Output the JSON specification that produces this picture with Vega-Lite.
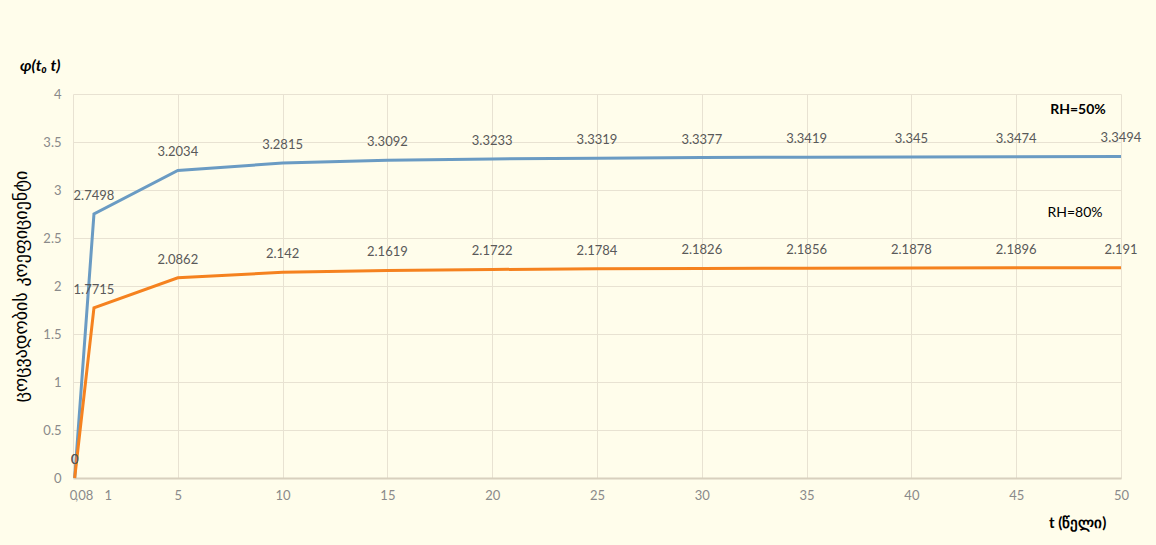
{
  "$schema": "https://vega.github.io/schema/vega-lite/v6.json",
  "width": 1048,
  "height": 384,
  "autosize": {"type": "none"},
  "padding": {"left": 73, "top": 94, "right": 35, "bottom": 67},
  "background": "#FFFDEB",
  "title": {
    "text": "φ(t₀ t)",
    "anchor": "start",
    "frame": "group",
    "dx": -53,
    "offset": 14,
    "font": "Lato",
    "fontSize": 16,
    "fontStyle": "italic",
    "fontWeight": "bold",
    "color": "#000000"
  },
  "config": {
    "view": {"stroke": null},
    "font": "Lato",
    "axis": {
      "gridColor": "#E8E2D2",
      "gridWidth": 1,
      "labelColor": "#8A8A8A",
      "labelFontSize": 13,
      "labelFont": "Lato",
      "ticks": false,
      "domain": false
    }
  },
  "data": {
    "values": [
      {"t": 0.08, "phi": 0, "RH": "RH=50%"},
      {"t": 1, "phi": 2.7498, "RH": "RH=50%"},
      {"t": 5, "phi": 3.2034, "RH": "RH=50%"},
      {"t": 10, "phi": 3.2815, "RH": "RH=50%"},
      {"t": 15, "phi": 3.3092, "RH": "RH=50%"},
      {"t": 20, "phi": 3.3233, "RH": "RH=50%"},
      {"t": 25, "phi": 3.3319, "RH": "RH=50%"},
      {"t": 30, "phi": 3.3377, "RH": "RH=50%"},
      {"t": 35, "phi": 3.3419, "RH": "RH=50%"},
      {"t": 40, "phi": 3.345, "RH": "RH=50%"},
      {"t": 45, "phi": 3.3474, "RH": "RH=50%"},
      {"t": 50, "phi": 3.3494, "RH": "RH=50%"},
      {"t": 0.08, "phi": 0, "RH": "RH=80%"},
      {"t": 1, "phi": 1.7715, "RH": "RH=80%"},
      {"t": 5, "phi": 2.0862, "RH": "RH=80%"},
      {"t": 10, "phi": 2.142, "RH": "RH=80%"},
      {"t": 15, "phi": 2.1619, "RH": "RH=80%"},
      {"t": 20, "phi": 2.1722, "RH": "RH=80%"},
      {"t": 25, "phi": 2.1784, "RH": "RH=80%"},
      {"t": 30, "phi": 2.1826, "RH": "RH=80%"},
      {"t": 35, "phi": 2.1856, "RH": "RH=80%"},
      {"t": 40, "phi": 2.1878, "RH": "RH=80%"},
      {"t": 45, "phi": 2.1896, "RH": "RH=80%"},
      {"t": 50, "phi": 2.191, "RH": "RH=80%"}
    ]
  },
  "encoding": {
    "x": {
      "field": "t",
      "type": "quantitative",
      "scale": {"domain": [0, 50], "nice": false, "zero": false},
      "axis": {
        "values": [0, 0.08, 1, 5, 10, 15, 20, 25, 30, 35, 40, 45, 50],
        "labelExpr": "datum.value == 0.08 ? ' ,08' : datum.label",
        "labelAlign": {"condition": {"test": "datum.value > 0 && datum.value < 2", "value": "left"}, "value": "center"},
        "labelOffset": {"condition": {"test": "datum.value == 1", "value": 10}, "value": 0},
        "labelOverlap": false,
        "labelPadding": 11,
        "domain": true,
        "domainColor": "#D8D0BE",
        "domainWidth": 2,
        "gridOpacity": {"condition": {"test": "datum.value > 0 && datum.value < 2", "value": 0}, "value": 1},
        "title": "t (წელი)",
        "titleFont": "Lato",
        "titleFontSize": 15,
        "titleFontWeight": "bold",
        "titleColor": "#000000",
        "titleAnchor": "end",
        "titleAlign": "right",
        "titleBaseline": "middle",
        "titleX": 1033,
        "titleY": 44
      }
    },
    "y": {
      "field": "phi",
      "type": "quantitative",
      "scale": {"domain": [0, 4], "nice": false},
      "axis": {
        "values": [0, 0.5, 1, 1.5, 2, 2.5, 3, 3.5, 4],
        "format": "~g",
        "labelPadding": 12,
        "title": "ცოცვადობის კოეფიციენტი",
        "titleFont": "DejaVu Sans",
        "titleFontSize": 18,
        "titleFontWeight": "normal",
        "titleColor": "#000000",
        "titlePadding": 12
      }
    },
    "color": {
      "field": "RH",
      "type": "nominal",
      "scale": {"domain": ["RH=50%", "RH=80%"], "range": ["#6A9BC3", "#F5821F"]},
      "legend": null
    }
  },
  "layer": [
    {"mark": {"type": "line", "strokeWidth": 3}},
    {
      "mark": {"type": "text", "dy": -18, "fontSize": 13, "font": "Lato", "color": "#595959", "baseline": "middle"},
      "encoding": {
        "text": {"field": "phi", "type": "quantitative"},
        "color": {"value": "#595959"}
      }
    },
    {
      "transform": [{"filter": "datum.t == 50 && datum.RH == 'RH=50%'"}],
      "mark": {"type": "text", "dx": -43, "dy": -46, "fontSize": 14, "fontWeight": "bold", "font": "Lato", "baseline": "middle"},
      "encoding": {"text": {"field": "RH"}, "color": {"value": "#000000"}}
    },
    {
      "transform": [{"filter": "datum.t == 50 && datum.RH == 'RH=80%'"}],
      "mark": {"type": "text", "dx": -46, "dy": -55, "fontSize": 14, "font": "Lato", "baseline": "middle"},
      "encoding": {"text": {"field": "RH"}, "color": {"value": "#000000"}}
    }
  ]
}
